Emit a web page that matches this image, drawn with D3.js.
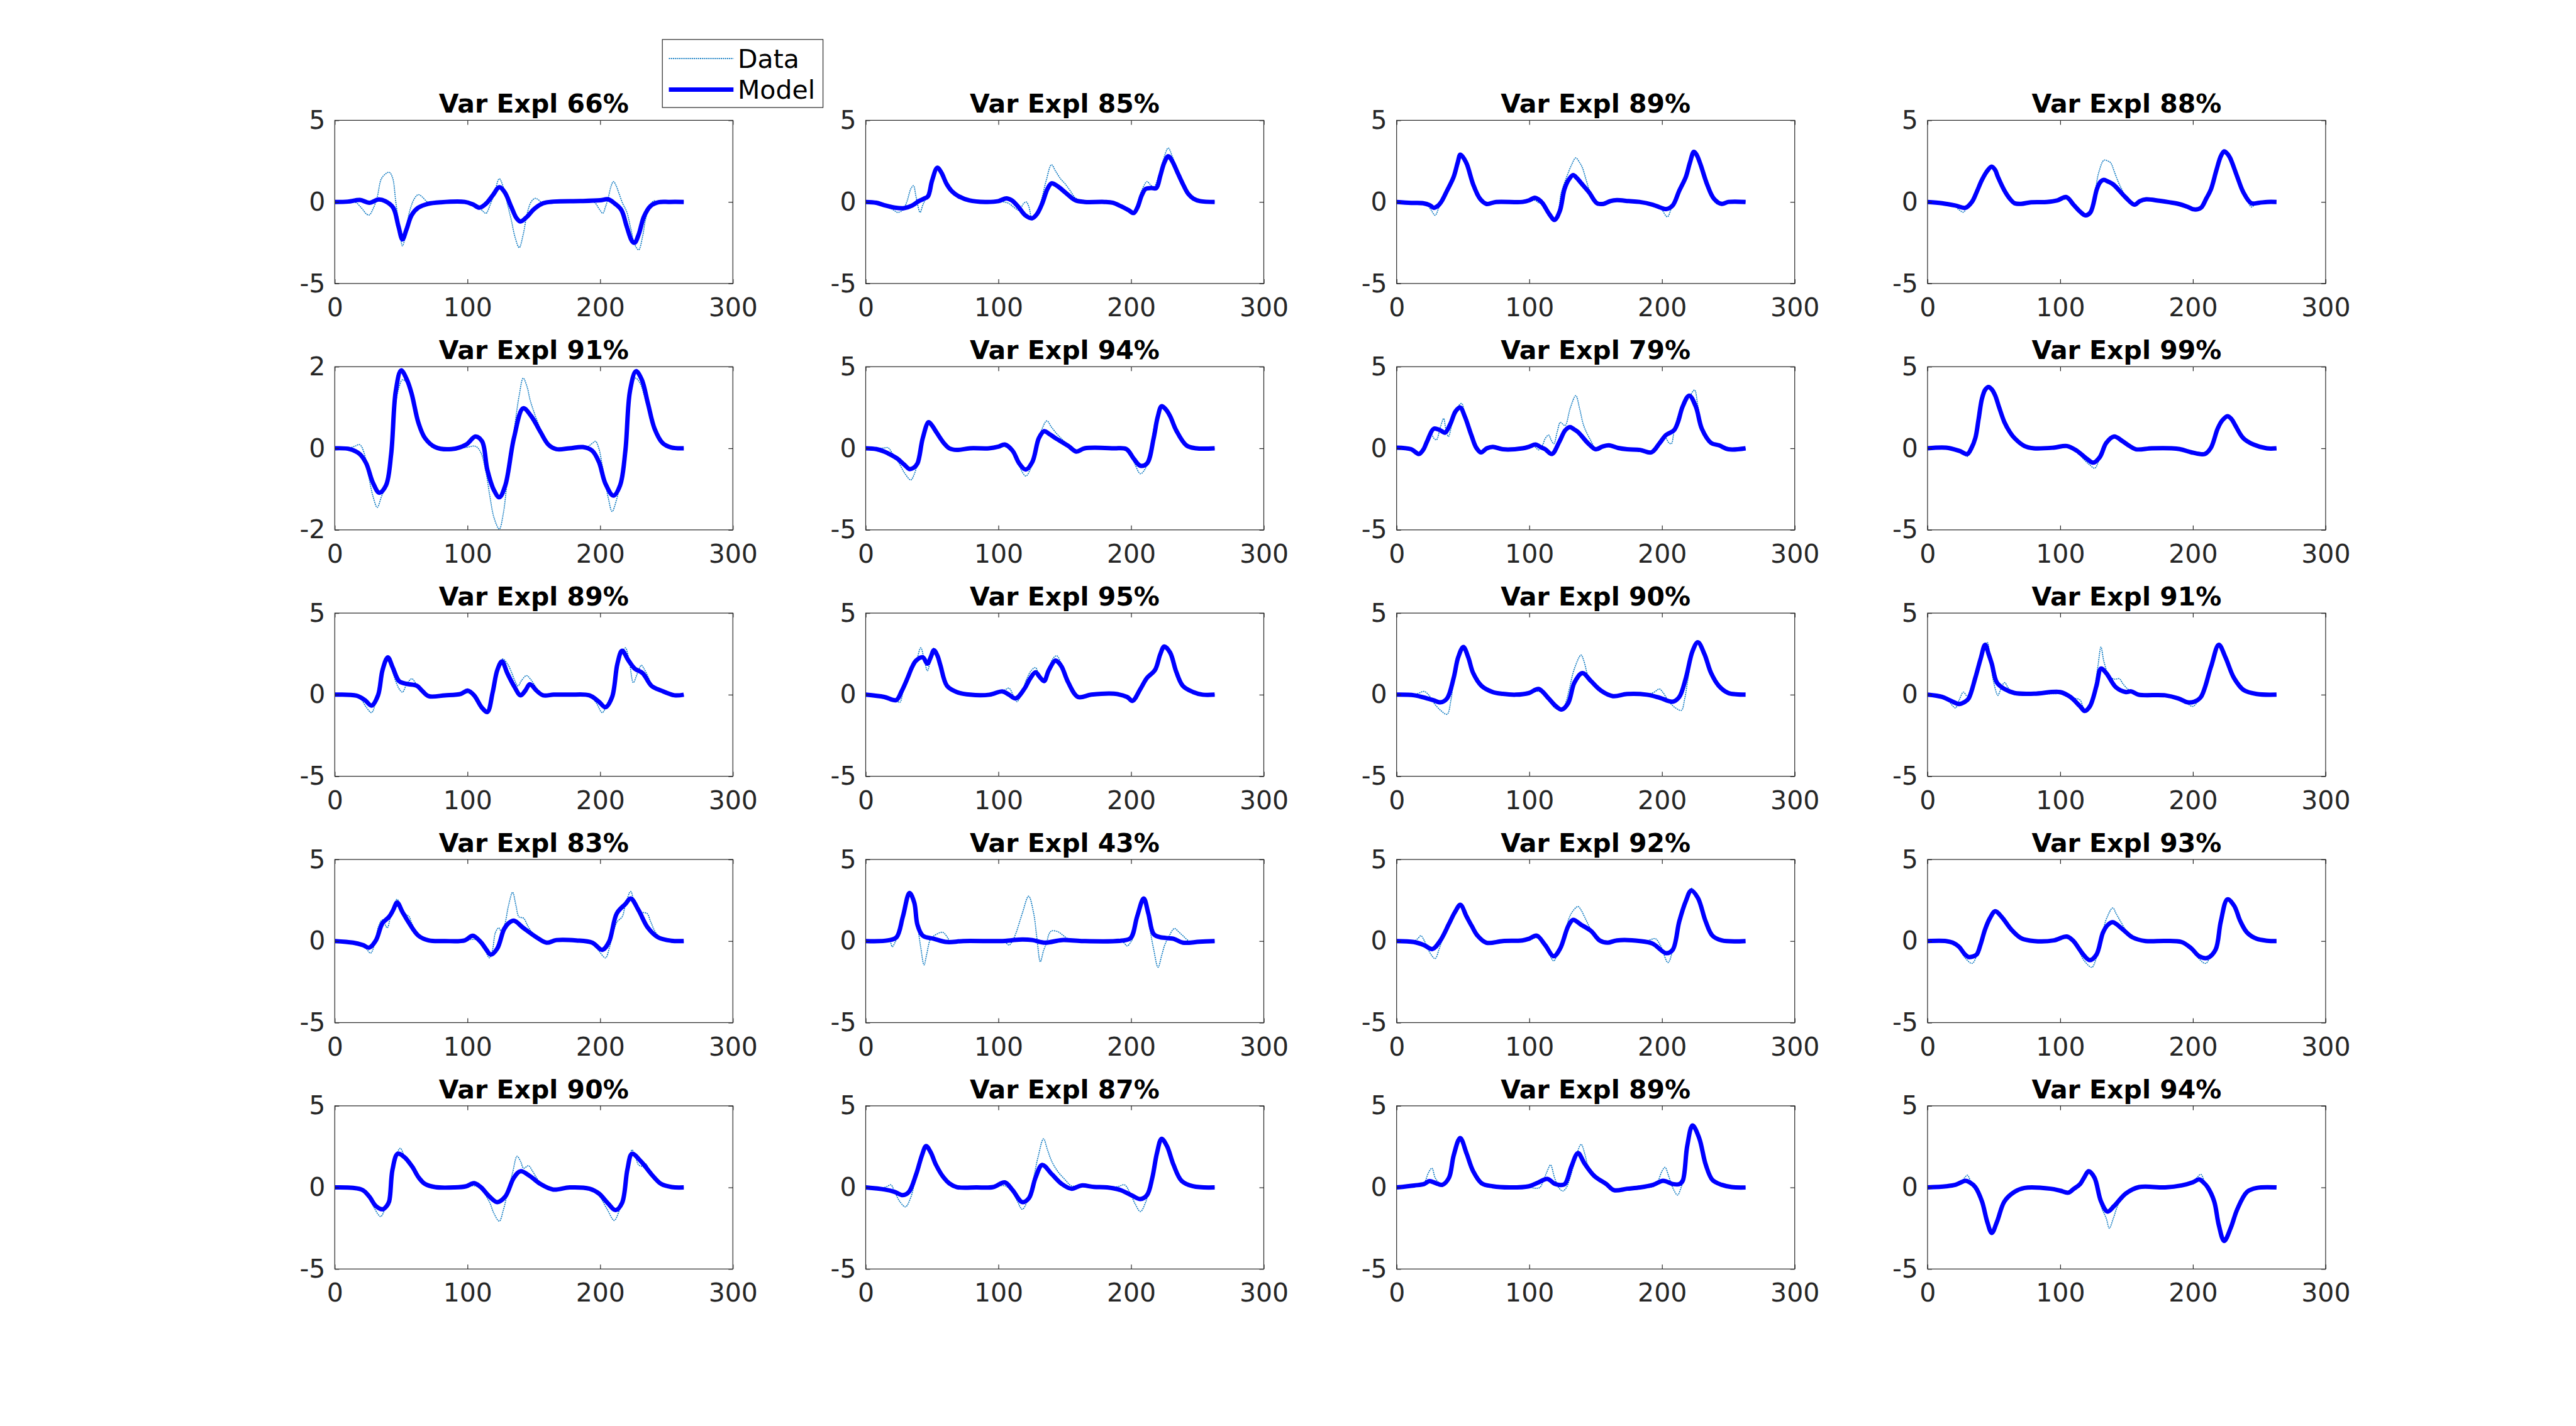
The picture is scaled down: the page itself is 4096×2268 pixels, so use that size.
<!DOCTYPE html>
<html><head><meta charset="utf-8">
<script src="https://cdn.jsdelivr.net/npm/d3@7"></script>
<style>html,body{margin:0;padding:0;background:#fff;overflow:hidden}</style>
</head><body>
<svg id="chart" width="4096" height="2268"></svg>
<script>
// ---------------- DATA ----------------
const titles = ["Var Expl 66%","Var Expl 85%","Var Expl 89%","Var Expl 88%",
  "Var Expl 91%","Var Expl 94%","Var Expl 79%","Var Expl 99%",
  "Var Expl 89%","Var Expl 95%","Var Expl 90%","Var Expl 91%",
  "Var Expl 83%","Var Expl 43%","Var Expl 92%","Var Expl 93%",
  "Var Expl 90%","Var Expl 87%","Var Expl 89%","Var Expl 94%"];
const yLimits = [5,5,5,5, 2,5,5,5, 5,5,5,5, 5,5,5,5, 5,5,5,5];
const xTicks = [0,100,200,300];
const xLimits = [0,300];
const legendLabels = ["Data","Model"];

const m01 = [[0,0],[10,0.02],[19,0.12],[26,-0.05],[33,0.15],[38,0.05],[44,-0.35],[48,-1.5],[51,-2.3],[54,-1.7],[58,-0.8],[63,-0.35],[70,-0.12],[80,-0.02],[98,0],[104,-0.15],[109,-0.35],[114,-0.1],[119,0.4],[124,0.9],[128,0.6],[133,-0.3],[137,-1.0],[140,-1.2],[145,-0.9],[150,-0.45],[157,-0.08],[165,0.02],[185,0.05],[200,0.1],[206,0.16],[211,-0.1],[216,-0.5],[220,-1.5],[224,-2.4],[226,-2.5],[229,-2.0],[233,-0.9],[238,-0.25],[244,-0.02],[252,0],[263,0]];
const d01 = [[0,0],[15,0],[20,-0.36],[24,-0.75],[26,-0.8],[29,-0.4],[32,0.3],[35,1.4],[38,1.7],[41,1.82],[43.5,1.5],[46,0],[49,-1.8],[51,-2.7],[53,-2.2],[56,-0.7],[60,0.2],[63,0.45],[66,0.3],[70,0],[80,0],[100,0],[104,-0.05],[108,-0.24],[112,-0.6],[114,-0.7],[117,-0.2],[120,0.45],[124,1.42],[127,0.9],[130,-0.1],[133,-1.1],[136,-2.2],[139,-2.8],[142,-2.0],[145,-0.7],[148,0],[151,0.22],[154,0.1],[157,-0.13],[162,0],[195,0],[199,-0.4],[202,-0.7],[204,-0.3],[206,0.22],[208,0.9],[210,1.25],[212,1.0],[214,0.56],[217,-0.1],[220,-0.6],[223,-1.6],[226,-2.6],[229,-2.94],[232,-2.1],[234,-1.16],[237,-0.3],[240,0.05],[243,0.05],[246,-0.05],[250,0],[263,0]];

const m02 = [[0,0],[8,-0.05],[14,-0.2],[22,-0.35],[29,-0.38],[35,-0.22],[40,0.05],[44,0.2],[47,0.35],[50,1.3],[54,2.1],[57,1.8],[61,1.1],[65,0.65],[70,0.35],[78,0.1],[90,0],[100,0.05],[106,0.22],[110,0.1],[115,-0.3],[120,-0.8],[125.5,-1.0],[129,-0.75],[133,-0.1],[137,0.8],[140,1.14],[144,1.0],[148,0.75],[153,0.4],[158,0.1],[165,0],[180,0],[186,-0.05],[192,-0.25],[198,-0.5],[202,-0.68],[205,-0.3],[208,0.4],[211,0.8],[215,0.85],[219,0.85],[222,1.6],[225,2.4],[228,2.8],[231,2.5],[235,1.8],[239,1.1],[243,0.5],[247,0.2],[252,0.05],[263,0]];
const d02 = [[0,0],[10,-0.05],[16,-0.25],[21,-0.5],[24,-0.64],[28,-0.5],[31,0],[34,0.8],[36,1.0],[38,0.3],[41,-0.64],[43,-0.2],[46,0.35],[50,1.4],[54,2.2],[57,1.8],[61,1.1],[65,0.65],[70,0.35],[80,0.05],[95,0],[104,0],[108,-0.1],[112,-0.35],[115.6,-0.5],[119,-0.1],[121,0],[123,-0.3],[125.5,-1.1],[128,-0.8],[132,0],[136,1.3],[140,2.28],[143,1.9],[147,1.4],[150,1.14],[154,0.7],[158,0.25],[164,0],[180,0],[192,-0.25],[198,-0.5],[202,-0.6],[205,0],[208,0.7],[212,1.25],[214,1.1],[217,0.9],[220,1.4],[224,2.5],[228,3.3],[231,2.8],[235,1.9],[239,1.0],[244,0.4],[250,0.05],[263,0]];

const m03 = [[0,0],[11,-0.06],[20,-0.08],[25,-0.2],[28,-0.36],[31,-0.25],[34,0.05],[38,0.69],[43,1.54],[46,2.4],[48,2.9],[50,2.75],[53,2.3],[57.7,1.07],[62.7,0.21],[67.6,-0.12],[75,0],[95,0],[100,0.1],[104,0.26],[107,0.15],[110,-0.08],[115,-0.74],[119,-1.1],[123,-0.55],[126.5,0.78],[130,1.4],[133,1.64],[136,1.45],[139,1.16],[145,0.59],[151,-0.08],[156,-0.12],[161,0.05],[166,0.11],[175,0.05],[183,0],[193,-0.17],[199,-0.35],[203,-0.44],[208,-0.22],[213,0.69],[218,1.54],[221,2.4],[224,3.07],[226,2.9],[229,2.3],[234,1.07],[239,0.21],[245,-0.12],[250,0],[263,0]];
const d03 = [[0,0],[15,-0.03],[22,-0.1],[26,-0.5],[29,-0.82],[32,-0.3],[35,0.4],[38,0.78],[41,1.2],[44,1.9],[48,2.85],[52,2.4],[56,1.3],[60,0.4],[64,-0.05],[68,-0.12],[75,0],[100,0.02],[104,0.1],[107,-0.05],[110,-0.15],[113,-0.6],[116,-0.95],[119,-1.1],[122,-0.5],[124,0.54],[128,1.5],[132,2.3],[135,2.7],[138,2.4],[140,2.1],[143,1.3],[145,0.78],[148,0.3],[151,-0.08],[156,-0.12],[166,0.1],[183,0],[193,-0.15],[199,-0.4],[204,-0.91],[207,-0.4],[210,0.3],[214,1.0],[218,1.7],[224,3.0],[229,2.3],[234,1.0],[238,0.2],[242,-0.15],[246,-0.1],[250,0],[263,0]];

const m04 = [[0,0],[11,-0.08],[21,-0.22],[28.6,-0.36],[33.6,0.02],[37,0.6],[41,1.35],[45,1.9],[48.3,2.16],[51,1.95],[53,1.54],[58,0.69],[62,0.2],[65.6,-0.08],[70.5,-0.12],[78,-0.02],[90,0],[98,0.1],[104.6,0.3],[110,-0.17],[115,-0.6],[118.9,-0.82],[122.7,-0.65],[127.6,0.78],[130,1.2],[132.6,1.35],[136,1.25],[140,1.07],[149,0.3],[156,-0.17],[160,0.05],[164.8,0.16],[174.6,0.07],[182,-0.02],[189,-0.12],[196,-0.3],[201,-0.46],[206,-0.36],[210,0.2],[213.6,0.78],[217.6,1.92],[221,2.8],[223.5,3.1],[226,2.95],[228,2.7],[233.4,1.54],[238,0.59],[244,-0.08],[250,-0.05],[256,0],[263,0]];
const d04 = [[0,0],[11,-0.08],[20,-0.25],[24,-0.5],[27,-0.63],[30,-0.3],[33.6,0.05],[37,0.65],[41,1.5],[45,2.05],[48,2.1],[51,1.9],[53,1.5],[58,0.7],[62,0.15],[65.6,-0.12],[70.5,-0.12],[90,0],[98,0.05],[104.6,0.15],[110,-0.2],[115,-0.6],[119,-0.85],[122.7,-0.5],[126,0.5],[129,1.8],[133,2.56],[136,2.5],[138,2.4],[141,1.8],[144.6,1.07],[150.5,0.21],[156,-0.17],[160,0.05],[164.8,0.1],[174.6,0.05],[182,0],[189,-0.1],[196,-0.3],[201,-0.5],[205,-0.35],[209,0.2],[213.6,0.9],[217.6,1.9],[221,2.87],[223.5,3.0],[226,2.8],[228,2.5],[233.4,1.5],[238,0.6],[241,0.1],[244,-0.31],[247,-0.15],[252,0],[263,0]];

const m05 = [[0,0],[11.4,-0.02],[18.8,-0.14],[23.7,-0.37],[28.7,-0.84],[33.6,-1.09],[38.6,-0.91],[42.5,-0.14],[46,1.41],[50,1.91],[54.4,1.68],[58,1.33],[63,0.63],[68,0.25],[75.6,0.03],[88,-0.02],[99,0.09],[106,0.29],[111,0.17],[115,-0.53],[120,-1.03],[124,-1.2],[128.5,-0.91],[135,0.25],[142,0.98],[148,0.79],[155,0.4],[161,0.09],[167,-0.02],[177,0],[187,0.03],[194,-0.06],[199,-0.33],[204,-0.87],[210,-1.16],[215,-0.91],[219,-0.06],[222.5,1.41],[227,1.89],[231.4,1.68],[236,1.1],[241,0.48],[247,0.13],[253.5,0.02],[263,0]];
const d05 = [[0,0],[10,0],[15,0.05],[18.8,0.09],[22,-0.1],[25,-0.6],[29,-1.2],[32,-1.45],[35,-1.2],[37,-1.03],[40,-0.6],[43,0.1],[46,1.1],[48,1.45],[51,1.68],[54.4,1.6],[58,1.3],[63,0.63],[68,0.25],[75.6,0.03],[88,0],[99,0.02],[106,0.05],[110,-0.1],[114,-0.6],[117,-1.2],[120,-1.7],[124,-1.98],[127,-1.6],[130,-0.8],[135,0.4],[139,1.3],[142,1.72],[145,1.5],[147,1.21],[150,0.9],[153,0.63],[158,0.25],[163,0.02],[170,-0.02],[180,0],[190,0.03],[194,0.12],[196.5,0.17],[199,0.0],[202,-0.5],[206,-1.2],[209,-1.55],[212,-1.3],[216,-0.7],[219,0.1],[222.5,1.2],[226.5,1.72],[230,1.6],[234,1.2],[238,0.75],[242,0.4],[247,0.12],[253.5,0.02],[263,0]];

const m06 = [[0,0],[8,-0.05],[14,-0.2],[19,-0.4],[24,-0.64],[29,-1.0],[33,-1.27],[36,-1.2],[39,-0.93],[43,0.62],[47.4,1.6],[50,1.4],[52.4,1.1],[58.8,0.33],[63,0.0],[68.7,-0.1],[78.6,0],[93,0],[100,0.1],[104.8,0.23],[110.7,-0.15],[115.7,-0.93],[120.6,-1.3],[125.6,-0.83],[130.5,0.62],[134.5,1.05],[138,0.9],[143,0.62],[152.8,0.14],[158.7,-0.2],[165,0],[187,0],[196.5,-0.05],[202,-0.64],[207,-1.07],[212,-0.93],[217,0.62],[220,1.9],[223,2.58],[226,2.4],[229.4,1.97],[234,1.1],[241.7,0.18],[249,0],[263,0]];
const d06 = [[0,0],[10,0],[14,0.02],[16.8,0.04],[20,-0.3],[25,-0.9],[30,-1.6],[34,-1.94],[37,-1.5],[39,-0.9],[43,0.62],[47,1.5],[50,1.4],[52.4,1.1],[58.8,0.33],[63,0],[68.7,-0.1],[78.6,0],[100,0],[104.8,0.1],[110.7,-0.3],[115.7,-1.1],[120.6,-1.7],[124,-1.3],[128,-0.2],[132,1.0],[136.5,1.68],[140,1.3],[145,0.8],[152.8,0.2],[158.7,-0.15],[165,0],[190,0],[195,0.04],[199,-0.3],[203,-1.0],[207,-1.56],[211,-1.2],[215,0.2],[219,1.9],[223,2.55],[226,2.4],[229.4,1.97],[234,1.1],[241.7,0.18],[249,0],[263,0]];

const m07 = [[0,0.04],[11,-0.06],[16.8,-0.35],[20,-0.1],[23,0.43],[28,1.2],[33,1.1],[36.5,0.96],[40.5,1.5],[44.4,2.26],[47.9,2.5],[51.3,1.97],[56.3,0.81],[60,0.04],[63.6,-0.25],[68,0],[72.5,0.09],[80,-0.06],[95,0],[100,0.1],[104.6,0.23],[109,0.05],[112,-0.06],[117,-0.35],[122.8,0.43],[127,1.1],[130.7,1.3],[133,1.2],[136.7,1.0],[144,0.33],[150,-0.06],[155,0.1],[160,0.18],[167,0.02],[173.7,-0.06],[183.5,-0.1],[192,-0.25],[198.3,0.33],[203,0.81],[209,1.1],[212,1.6],[215.5,2.55],[220.5,3.23],[225.5,2.55],[230,1.2],[237,0.33],[243,0.18],[250,-0.06],[263,0]];
const d07 = [[0,0.04],[11,-0.06],[16.8,-0.4],[20,-0.1],[23,0.4],[26,0.9],[28,0.62],[30,0.52],[33,1.3],[35.5,1.83],[37,1.2],[39,0.72],[42,1.6],[45,2.4],[49,2.75],[51.3,2.1],[56.3,0.8],[60,0],[62.6,-0.3],[66,-0.1],[72.5,0.05],[80,-0.05],[95,0],[100,0.05],[104,0.1],[107,-0.1],[110,0.2],[112,0.6],[114.6,0.81],[116.5,0.5],[118.5,0.28],[121,1.0],[123.3,1.59],[125,1.5],[127,1.39],[131,2.5],[135,3.23],[138,2.4],[141,1.39],[146,0.52],[151,-0.1],[155,0.1],[160,0.15],[167,0],[183.5,-0.1],[192,-0.25],[196,0.05],[200,0.5],[203,0.6],[205,0.35],[207,0.28],[209,1.0],[212,1.97],[215,2.4],[218,2.8],[221,3.2],[224.5,3.57],[227,2.6],[230,1.2],[233,0.7],[235,0.43],[238,0.3],[243,0.18],[250,-0.06],[263,0]];

const m08 = [[0,0],[14,0.04],[23.7,-0.15],[30,-0.35],[33,0],[36,0.62],[38.5,1.8],[41,3.04],[43.5,3.6],[46,3.76],[48.5,3.6],[51,3.23],[54,2.5],[58,1.59],[62,1.0],[65.6,0.62],[73,0.14],[80,0],[95,0.04],[105,0.14],[112.5,-0.15],[120,-0.64],[124.8,-0.88],[129.8,-0.54],[134.7,0.33],[140.6,0.72],[147,0.43],[152,0.15],[157,-0.06],[169,0],[184,0],[190,-0.05],[199,-0.25],[205,-0.35],[209,-0.35],[213.6,0.04],[218.6,1.2],[222,1.7],[226,1.97],[229,1.8],[232,1.39],[238,0.62],[245.7,0.23],[255.6,0],[263,0]];
const d08 = [[0,0],[14,0.04],[23.7,-0.15],[27,-0.35],[30,-0.5],[33,-0.05],[36,0.62],[38.5,1.8],[41,3.1],[43.5,3.65],[46,3.8],[48.5,3.6],[51,3.2],[54,2.5],[58,1.59],[62,1.0],[65.6,0.62],[73,0.14],[80,0],[95,0.04],[105,0.1],[112.5,-0.2],[118,-0.7],[122,-1.0],[126,-1.22],[129.8,-0.6],[134.7,0.33],[140.6,0.72],[147,0.43],[152,0.15],[157,-0.06],[169,0],[184,0],[190,-0.05],[199,-0.25],[205,-0.35],[209,-0.35],[213.6,0.04],[218.6,1.2],[222,1.7],[226,1.97],[229,1.8],[232,1.39],[238,0.62],[245.7,0.23],[255.6,0],[263,0]];

const m09 = [[0,0],[16.3,-0.06],[22.7,-0.33],[27.7,-0.67],[32.6,-0.04],[36,1.51],[40,2.29],[43.5,1.7],[48.4,0.83],[52,0.7],[55.8,0.64],[62,0.54],[65.7,0.25],[70.7,-0.09],[83,-0.04],[95,0.05],[100.3,0.25],[105,-0.04],[111,-0.81],[115,-1.06],[119,0.15],[122.5,1.51],[126,2.04],[130,1.32],[135,0.54],[140,-0.04],[143.6,0.25],[147,0.64],[152,0.25],[157,-0.04],[165,0],[177,0],[191.8,-0.04],[199,-0.43],[204,-0.77],[209,-0.14],[213,1.9],[216.5,2.69],[221.4,2.09],[226,1.6],[232,1.32],[238.7,0.54],[246,0.25],[256,-0.04],[263,0]];
const d09 = [[0,0],[16.3,-0.06],[20,-0.3],[24,-0.8],[27.7,-1.1],[31,-0.4],[34,0.8],[37,1.7],[39.5,2.1],[41.5,1.95],[44,1.3],[47,0.6],[49,0.3],[51,0.15],[54,0.6],[58,0.98],[61,0.7],[65.7,0.2],[70.7,-0.09],[83,-0.04],[95,0],[100.3,0.1],[105,-0.1],[111,-0.85],[115,-1.06],[119,0.15],[122.5,1.5],[126.5,2.19],[130,1.9],[132.5,1.51],[135.5,0.9],[138,0.54],[141,0.9],[144.5,1.17],[147,1.0],[149.7,0.7],[153,0.3],[157,-0.04],[165,0],[177,0],[191.8,-0.04],[197,-0.5],[201.6,-1.1],[205,-0.6],[209,0.1],[213,1.8],[216,2.5],[219,2.87],[222,2.0],[225,0.74],[228,1.3],[231,1.8],[233,1.6],[236,1.12],[239,0.6],[246,0.25],[256,-0.04],[263,0]];

const m10 = [[0,0],[14,-0.14],[23,-0.33],[27,0.2],[31.6,1.03],[35,1.7],[38,2.09],[43,2.29],[46.5,1.9],[49,2.3],[51.4,2.72],[54,2.4],[56.3,1.8],[61.3,0.54],[68.7,0.16],[78.6,0],[93.4,0],[103,0.2],[108,0.0],[113,-0.23],[119.5,0.35],[124,1.0],[128,1.37],[131,1.1],[134.4,0.83],[138,1.5],[142.8,2.09],[145,2.0],[147.8,1.7],[152.7,0.74],[160,-0.14],[170,0],[187,0.06],[197,-0.14],[201,-0.38],[207,0.35],[212,1.03],[218,1.51],[222,2.48],[225,2.95],[229.4,2.58],[234,1.41],[239,0.54],[246.8,0.16],[254,0],[263,0]];
const d10 = [[0,0],[14,-0.14],[22,-0.3],[25.7,-0.47],[28,0.1],[31.6,0.9],[35,1.5],[38,2.0],[41.5,2.87],[44,2.2],[46.5,1.46],[49,2.2],[51.4,2.87],[54,2.2],[56.3,1.6],[61.3,0.54],[68.7,0.16],[78.6,0],[93.4,0],[100,0.1],[105,0.3],[108,0.4],[111,0.0],[114,-0.43],[118,0.2],[121,0.9],[125,1.5],[128,1.66],[131,1.1],[134.4,0.9],[138,1.6],[141,2.2],[144,2.38],[147.8,1.8],[152.7,0.74],[160,-0.14],[170,0],[187,0.06],[197,-0.2],[201,-0.4],[207,0.4],[212,1.0],[218,1.6],[222,2.5],[225,2.95],[229.4,2.55],[234,1.41],[239,0.54],[246.8,0.16],[254,0],[263,0]];

const m11 = [[0,0],[13.3,-0.04],[23,-0.23],[28,-0.35],[33,-0.47],[38,-0.23],[43,1.03],[46.4,2.29],[50.3,2.92],[54,2.29],[57.7,1.32],[64,0.54],[72.5,0.16],[80,0.05],[89.8,0],[99.7,0.1],[107,0.35],[114.5,-0.23],[120,-0.7],[124.3,-0.91],[129.3,-0.52],[134,0.74],[140,1.32],[146.5,0.83],[154,0.25],[163,-0.09],[173.7,0.04],[188.5,0],[198,-0.18],[208,-0.43],[213,-0.14],[218,1.03],[223,2.67],[227,3.21],[232,2.48],[237,1.32],[242.8,0.54],[250,0.1],[256,0.02],[263,0]];
const d11 = [[0,0],[13.3,0],[17,0.1],[20.7,0.2],[24,0],[28,-0.5],[33,-0.95],[38,-1.2],[41,-0.3],[43,0.9],[46.4,2.2],[50.3,2.92],[54,2.29],[57.7,1.32],[64,0.54],[72.5,0.16],[89.8,0],[99.7,0.05],[107,0.2],[114.5,-0.3],[119,-0.8],[124.3,-0.95],[127,-0.6],[130,0.3],[134,1.6],[139,2.43],[141,2.1],[144,1.2],[146.5,0.83],[154,0.25],[163,-0.09],[173.7,0.04],[188.5,0],[194,0.15],[198,0.35],[201,0.1],[205,-0.4],[210,-0.8],[214.6,-0.96],[217,-0.3],[220,1.2],[223,2.6],[227,3.26],[232,2.48],[237,1.32],[242.8,0.54],[250,0.1],[263,0]];

const m12 = [[0,0],[11,-0.14],[17,-0.35],[23.7,-0.57],[28,-0.45],[31,-0.23],[36,1.03],[40,2.2],[43.4,3.06],[46,2.5],[48.4,1.9],[52.3,0.74],[58,0.35],[65.6,0.1],[80.4,0.06],[100,0.16],[107.6,-0.14],[115,-0.72],[118.4,-1.0],[122.3,-0.72],[127.3,0.54],[130.7,1.6],[134.7,1.32],[142,0.45],[149.5,0.16],[153.4,0.2],[159,0],[179,-0.04],[189,-0.23],[196,-0.47],[201,-0.43],[206,-0.14],[213.6,1.71],[219.5,3.06],[224.5,2.29],[230.9,1.03],[238,0.3],[248,0.04],[263,0]];
const d12 = [[0,0],[11,-0.14],[16,-0.4],[21,-0.81],[24,-0.3],[27,0.16],[30,-0.1],[33,0.5],[36,1.1],[40,2.3],[43,3.0],[45,3.2],[47.5,2.0],[50,0.7],[53,-0.04],[55,0.3],[58,0.74],[61,0.4],[65.6,0.1],[80.4,0.06],[95,0.05],[100,0.05],[105,-0.1],[110,-0.2],[115,-0.33],[117,-0.7],[120,-1.06],[123,-0.6],[126,0.5],[128.5,1.8],[130.7,2.92],[133,2.0],[137,1.12],[141,0.95],[144.5,0.98],[147,0.7],[149.5,0.45],[153.4,0.2],[159,0],[179,-0.04],[189,-0.25],[195,-0.5],[199.7,-0.72],[203,-0.5],[206,-0.14],[213.6,1.71],[219.5,3.0],[224.5,2.29],[230.9,1.03],[238,0.3],[248,0.04],[263,0]];

const m13 = [[0,0],[13.8,-0.1],[21.2,-0.25],[26,-0.4],[31,0.04],[36,1.1],[41,1.49],[44,1.9],[47,2.36],[51,1.78],[56,1.1],[63,0.33],[70.7,0.04],[83,0],[98,0.04],[104,0.33],[110,-0.06],[114,-0.5],[117.6,-0.83],[122.5,-0.45],[127.5,0.72],[131,1.1],[135,1.25],[142,0.81],[152,0.23],[159.6,-0.1],[167,0.06],[182,0.04],[194,-0.1],[201.6,-0.54],[206.6,-0.06],[212.5,1.69],[219,2.27],[223,2.61],[229,1.88],[236,0.81],[243.6,0.23],[253.5,0.02],[263,0]];
const d13 = [[0,0],[13.8,-0.1],[21.2,-0.3],[24,-0.5],[27,-0.74],[30,-0.2],[33,0.9],[36,1.3],[39.5,0.81],[42,1.5],[44.5,2.2],[47,2.56],[50,2.0],[53,1.69],[56,1.5],[58,1.1],[63,0.33],[70.7,0.04],[83,0],[98,0.04],[104,0.1],[110,0.0],[113,-0.5],[116.6,-1.03],[119,-0.5],[121,0.5],[123.5,0.81],[125.5,0.6],[128,1.0],[131,2.2],[134,2.99],[136.5,2.2],[138.8,1.49],[142.3,1.4],[145,1.0],[147,0.72],[152,0.23],[159.6,-0.1],[167,0.06],[182,0.04],[194,-0.1],[199,-0.6],[204,-1.03],[207,-0.4],[210,0.6],[213,1.2],[216.6,1.49],[219,2.2],[223,3.04],[226.5,2.07],[229,1.8],[232,1.75],[235.4,1.69],[238,1.2],[242,0.5],[247,0.15],[253.5,0.02],[263,0]];

const m14 = [[0,0],[16.8,0.04],[23.2,0.23],[28,1.49],[33,2.95],[36.6,2.36],[39,1.0],[43,0.33],[51.4,0.14],[61.3,-0.06],[73.6,0],[103,0],[110,0.05],[118,0.09],[125.5,0.06],[135.4,-0.1],[147.8,0.06],[162.6,0],[192,0.02],[199.6,0.18],[204.5,1.49],[209.5,2.61],[213,1.69],[217,0.43],[222,0.23],[232,0.14],[239,-0.1],[251.6,-0.04],[263,0]];
const d14 = [[0,0],[15,0.02],[18,0.05],[20,-0.35],[22,-0.1],[25,0.5],[28,1.6],[33,2.95],[36.6,2.2],[39,1.0],[41.5,-0.4],[44,-1.46],[46,-0.8],[49,0.14],[53,0.4],[58,0.54],[61,0.3],[63.8,0],[73.6,0],[103,0],[105,-0.05],[108,-0.25],[110.5,0.0],[113,0.43],[118,1.69],[122.8,2.75],[126.6,1.69],[129,0.2],[131.6,-1.27],[134,-0.6],[136.5,-0.06],[138,0.4],[140,0.62],[145,0.57],[148,0.4],[152.3,0.14],[158,0],[192,0],[194.5,-0.1],[197,-0.3],[199.5,-0.1],[202,0.33],[205,1.6],[209.5,2.61],[212,1.7],[214.4,0.62],[217,-0.5],[220.3,-1.61],[223,-0.9],[225.3,-0.25],[228,0.2],[232.7,0.77],[236,0.55],[239,0.33],[244,0],[252,0],[263,0]];

const m15 = [[0,0],[13,-0.06],[20.7,-0.25],[27,-0.49],[33,0.04],[39.5,1.06],[44,1.78],[48,2.22],[52.8,1.49],[56.7,0.91],[61,0.33],[67.6,-0.1],[80,0],[94.7,0.04],[100,0.15],[105.6,0.33],[112,-0.25],[118.4,-0.93],[123.3,-0.45],[129.3,0.91],[133,1.3],[139,1.0],[146.5,0.62],[153,0.04],[159,-0.1],[166,0.04],[183.5,0],[193,-0.16],[203,-0.74],[208,-0.54],[213,1.2],[218,2.46],[222,3.09],[227,2.65],[232.9,1.2],[238,0.33],[245,0.04],[263,0]];
const d15 = [[0,0],[13,0],[16,0.15],[18.3,0.33],[21,0.0],[25,-0.7],[29,-1.08],[32,-0.5],[35,0.2],[39.5,1.0],[44,1.8],[48,2.25],[52.8,1.49],[56.7,0.91],[61,0.33],[67.6,-0.1],[80,0],[94.7,0],[100,0.05],[105.6,0.2],[112,-0.3],[115,-0.8],[118.4,-1.22],[121.5,-0.7],[125,0.1],[128,0.9],[131.6,1.69],[136.7,2.12],[139,1.9],[141.6,1.49],[146.5,0.7],[153,0.04],[159,-0.1],[166,0.04],[183.5,0],[190,0.05],[195,0.14],[199,-0.3],[204.5,-1.32],[208,-0.6],[212,0.6],[216,1.8],[219,2.6],[222,3.24],[227,2.65],[232.9,1.2],[238,0.33],[245,0.04],[263,0]];

const m16 = [[0,0],[14,0],[19,-0.1],[23.7,-0.35],[28,-0.8],[31,-0.98],[34,-0.95],[37,-0.83],[40,-0.2],[43.4,0.72],[47,1.4],[51,1.83],[55.8,1.49],[63,0.72],[70.5,0.18],[80.4,0],[95.2,0.04],[105,0.28],[110,0],[114,-0.45],[117.4,-0.83],[122.3,-1.17],[127.3,-0.83],[132.2,0.52],[136,1.0],[139.6,1.15],[147,0.72],[154.4,0.23],[164.3,0],[179,0.01],[191.4,-0.06],[198.8,-0.45],[204.7,-0.93],[211,-1.03],[217,-0.54],[221,1.2],[226,2.56],[231,2.17],[235.8,1.2],[240.8,0.52],[248,0.14],[256,0.02],[263,0]];
const d16 = [[0,0],[14,0],[19,-0.1],[23.7,-0.4],[28,-1.0],[33.6,-1.37],[37,-0.9],[40,-0.2],[43.4,0.72],[47,1.4],[51,1.83],[55.8,1.49],[63,0.72],[70.5,0.18],[80.4,0],[95.2,0.02],[105,0.15],[110,-0.1],[114,-0.6],[118,-1.2],[123.8,-1.61],[127.3,-1.0],[131,0.2],[135,1.4],[139.6,2.03],[142,1.7],[145.5,1.2],[150,0.6],[154.4,0.23],[164.3,0],[179,0],[191.4,-0.06],[198.8,-0.5],[204.7,-1.1],[209.5,-1.37],[213,-1.0],[217,-0.54],[221,1.2],[226,2.56],[231,2.17],[235.8,1.2],[240.8,0.52],[248,0.14],[256,0.02],[263,0]];

const m17 = [[0,0],[13.8,-0.03],[21.2,-0.17],[26,-0.56],[31,-1.14],[36,-1.34],[39,-1.15],[41,-0.85],[43.5,1.09],[47.4,2.06],[52.4,1.86],[58.3,1.28],[63.3,0.6],[68,0.21],[75.6,0.02],[90,0],[99,0.07],[105,0.26],[110,0.02],[116.6,-0.56],[122.5,-0.9],[128.5,-0.56],[135,0.6],[140,0.99],[147,0.7],[155,0.21],[164.6,-0.13],[177,0],[192,-0.08],[199,-0.37],[205.6,-0.95],[211.6,-1.39],[216.5,-0.95],[220.5,1.09],[224,2.06],[231,1.57],[238.7,0.8],[246,0.21],[254,0.02],[263,0]];
const d17 = [[0,0],[13.8,-0.03],[21.2,-0.1],[26,-0.6],[30,-1.3],[34.6,-1.78],[38,-1.3],[41,-0.85],[43.5,0.8],[46,1.9],[49.4,2.4],[52.4,1.9],[55.8,1.38],[58.3,1.28],[63.3,0.6],[68,0.21],[75.6,0.02],[90,0],[99,0.02],[105,0.1],[110,-0.1],[116.6,-0.9],[120,-1.6],[124,-2.07],[127,-1.4],[130,-0.4],[134,0.9],[137.4,1.91],[140,1.6],[142.3,1.18],[146,1.33],[149,1.0],[152,0.6],[155,0.25],[164.6,-0.13],[177,0],[192,-0.08],[199,-0.5],[205,-1.3],[210.6,-2.02],[214,-1.5],[217,-0.6],[220.5,1.0],[224,2.3],[226.5,1.9],[229,1.38],[231.5,1.3],[234,1.47],[238.7,0.8],[246,0.21],[254,0.02],[263,0]];

const m18 = [[0,0],[14.3,-0.13],[21.7,-0.27],[28,-0.47],[32.6,-0.27],[38,0.8],[42.5,2.0],[45.5,2.54],[49,2.15],[53,1.38],[58.8,0.6],[63,0.25],[68.7,0.02],[83.5,0],[96,0.02],[104.8,0.31],[110.7,-0.17],[118,-0.9],[123,-0.66],[128,0.6],[133,1.38],[140.4,0.8],[147.8,0.21],[155,-0.08],[162.6,0.12],[172,0.03],[182,0],[192.3,-0.17],[201,-0.51],[207,-0.71],[212,-0.47],[216,0.6],[219.5,2.11],[223,2.98],[227,2.54],[232,1.38],[238,0.41],[246.7,0.07],[263,0]];
const d18 = [[0,0],[14.3,0.0],[17,0.1],[19,0.16],[22,-0.3],[26,-0.9],[30,-1.19],[34,-0.6],[38,0.7],[42.5,2.0],[45.5,2.5],[49,2.15],[53,1.38],[58.8,0.6],[63,0.25],[68.7,0.02],[83.5,0],[96,0],[104.8,0.1],[110.7,-0.3],[114,-0.8],[118,-1.34],[122,-0.8],[126,0.4],[130,1.9],[134,2.98],[137,2.3],[140.4,1.57],[145,0.95],[150,0.5],[155,0.1],[162.6,0.12],[172,0.03],[182,0],[190,0.05],[195,0.16],[199,-0.3],[203,-1.0],[207,-1.48],[211,-0.9],[215,0.4],[219.5,2.11],[223,2.98],[227,2.54],[232,1.38],[238,0.41],[246.7,0.07],[263,0]];

const m19 = [[0,0],[13.3,0.12],[20.7,0.21],[24.7,0.39],[29.6,0.26],[34.5,0.16],[39.5,0.6],[43,1.96],[47.9,3.03],[52.8,2.06],[57.7,0.99],[64,0.26],[72.5,0.07],[85,0],[99.7,0.07],[107,0.31],[113.5,0.52],[119.4,0.21],[123,0.15],[126.8,0.21],[131.7,1.28],[136.7,2.1],[141.6,1.47],[149,0.7],[158,0.21],[163.8,-0.17],[173.7,-0.08],[183.5,0],[193.4,0.16],[200.8,0.41],[208,0.21],[213,0.2],[215.6,0.41],[219,2.54],[223,3.8],[228,3.03],[233,1.38],[238,0.46],[245,0.16],[252.6,0.02],[263,0]];
const d19 = [[0,0],[13.3,0.05],[18,0.1],[21,0.3],[24,0.9],[26.6,1.18],[29,0.6],[31.6,0.31],[34.5,0.16],[39.5,0.6],[43,1.96],[47.9,3.0],[52.8,2.06],[57.7,0.99],[64,0.2],[72.5,0],[85,0],[99.7,0],[104.6,-0.05],[108,0.0],[111,0.5],[113.5,1.0],[116,1.38],[119,0.6],[122,0],[125.3,-0.22],[128,0.0],[130,0.41],[134,1.5],[139,2.64],[142,2.0],[144,1.38],[149,0.7],[158,0.21],[163.8,-0.17],[173.7,-0.08],[183.5,0],[193.4,0.05],[197,0.4],[200,1.0],[202.3,1.23],[205,0.7],[208,0.0],[211.7,-0.47],[214,-0.1],[216,0.5],[219,2.54],[223,3.8],[228,3.03],[233,1.38],[238,0.46],[245,0.16],[252.6,0.02],[263,0]];

const m20 = [[0,0],[14,0.07],[21,0.16],[25,0.3],[28.6,0.41],[32,0.3],[36,0.02],[41,-0.85],[45,-2.11],[48.4,-2.79],[52.3,-2.11],[58,-0.85],[65.6,-0.27],[73,-0.03],[92.7,-0.08],[100,-0.2],[106,-0.32],[110,-0.1],[115,0.21],[118,0.6],[121.4,0.99],[125.8,0.6],[130.7,-0.85],[135.7,-1.48],[140.6,-1.14],[149.5,-0.37],[159.4,0.02],[179,0],[191.4,0.12],[199.8,0.31],[204.7,0.49],[208,0.3],[211,0.02],[216,-0.85],[219.5,-2.31],[223.5,-3.28],[228.4,-2.5],[233.4,-1.34],[240.8,-0.27],[248,-0.03],[263,0]];
const d20 = [[0,0],[14,0.05],[21,0.1],[25,0.3],[28,0.6],[30,0.75],[32.5,0.4],[36,0.02],[41,-0.85],[45,-2.11],[48.4,-2.79],[52.3,-2.11],[58,-0.85],[65.6,-0.27],[73,-0.03],[92.7,-0.05],[100,-0.15],[106,-0.25],[110,-0.05],[115,0.2],[118,0.5],[121.4,0.9],[125.8,0.5],[128.5,-0.3],[131,-1.2],[134.7,-1.9],[137,-2.5],[140,-1.9],[144,-1.0],[149.5,-0.4],[159.4,0.02],[179,0],[191.4,0.1],[199.8,0.3],[203,0.6],[206,0.8],[208.5,0.4],[211,0.02],[216,-0.85],[219.5,-2.31],[223.5,-3.28],[228.4,-2.5],[233.4,-1.34],[240.8,-0.27],[248,-0.03],[263,0]];

const modelSeries = [m01,m02,m03,m04,m05,m06,m07,m08,m09,m10,m11,m12,m13,m14,m15,m16,m17,m18,m19,m20];
const dataSeries  = [d01,d02,d03,d04,d05,d06,d07,d08,d09,d10,d11,d12,d13,d14,d15,d16,d17,d18,d19,d20];

// ---------------- LAYOUT ----------------
const FONT = "'DejaVu Sans', 'Liberation Sans', sans-serif";
const FS = 41;
const AX = "#262626";
const DATA_COLOR = "#0072BD";
const left0 = 532.3, colPitch = 844.2, axW = 633;
const top0 = 191.4, rowPitch = 391.85, axH = 259.5;
const tickLen = 7;

const svg = d3.select("#chart");
svg.append("rect").attr("width",4096).attr("height",2268).attr("fill","#fff");
const defs = svg.append("defs");

titles.forEach((title, i) => {
  const r = Math.floor(i / 4), c = i % 4;
  const ox = left0 + c * colPitch, oy = top0 + r * rowPitch;
  const lim = yLimits[i];
  const x = d3.scaleLinear().domain(xLimits).range([0, axW]);
  const y = d3.scaleLinear().domain([-lim, lim]).range([axH, 0]);
  const g = svg.append("g").attr("transform", `translate(${ox},${oy})`);

  defs.append("clipPath").attr("id", "clip" + i)
    .append("rect").attr("x", 0).attr("y", 0).attr("width", axW).attr("height", axH);

  const line = d3.line().x(d => x(d[0])).y(d => y(d[1])).curve(d3.curveCatmullRom.alpha(0.5));
  const plot = g.append("g").attr("clip-path", `url(#clip${i})`);
  plot.append("path").datum(dataSeries[i]).attr("d", line)
    .attr("fill", "none").attr("stroke", DATA_COLOR).attr("stroke-width", 1.6)
    .attr("stroke-dasharray", "2,1.3");
  plot.append("path").datum(modelSeries[i]).attr("d", line)
    .attr("fill", "none").attr("stroke", "#0000FF").attr("stroke-width", 7)
    .attr("stroke-linejoin", "round");

  const yTicks = [-lim, 0, lim];
  const styleAxis = sel => {
    sel.select(".domain").remove();
    sel.selectAll("line").attr("stroke", AX).attr("stroke-width", 1.2);
    sel.selectAll("text").attr("fill", AX).style("font-family", FONT).style("font-size", FS + "px");
    sel.attr("font-family", null).attr("font-size", null);
  };
  g.append("g").attr("transform", `translate(0,${axH})`)
    .call(d3.axisBottom(x).tickValues(xTicks).tickSize(-tickLen).tickPadding(23).tickFormat(d3.format("d")))
    .call(styleAxis);
  g.append("g")
    .call(d3.axisTop(x).tickValues(xTicks).tickSize(-tickLen).tickFormat(""))
    .call(styleAxis);
  g.append("g")
    .call(d3.axisLeft(y).tickValues(yTicks).tickSize(-tickLen).tickPadding(15).tickFormat(d => d < 0 ? "-" + Math.abs(d) : String(d)))
    .call(styleAxis);
  g.append("g").attr("transform", `translate(${axW},0)`)
    .call(d3.axisRight(y).tickValues(yTicks).tickSize(-tickLen).tickFormat(""))
    .call(styleAxis);

  g.append("rect").attr("x", 0).attr("y", 0).attr("width", axW).attr("height", axH)
    .attr("fill", "none").attr("stroke", AX).attr("stroke-width", 1.2);

  g.append("text").attr("x", axW / 2).attr("y", -12).attr("text-anchor", "middle")
    .style("font-family", FONT).style("font-size", FS + "px").style("font-weight", "bold")
    .attr("fill", "#000").text(title);
});

// ---------------- LEGEND ----------------
const lg = svg.append("g");
lg.append("rect").attr("x", 1053.2).attr("y", 62.8).attr("width", 255.4).attr("height", 108.2)
  .attr("fill", "#fff").attr("stroke", AX).attr("stroke-width", 1.2);
lg.append("line").attr("x1", 1063.5).attr("x2", 1166.3).attr("y1", 93.1).attr("y2", 93.1)
  .attr("stroke", DATA_COLOR).attr("stroke-width", 1.6).attr("stroke-dasharray", "2,1.3");
lg.append("line").attr("x1", 1063.5).attr("x2", 1166.3).attr("y1", 142.5).attr("y2", 142.5)
  .attr("stroke", "#0000FF").attr("stroke-width", 7);
lg.append("text").attr("x", 1173).attr("y", 107.5).style("font-family", FONT).style("font-size", FS + "px")
  .attr("fill", "#000").text(legendLabels[0]);
lg.append("text").attr("x", 1173).attr("y", 156.5).style("font-family", FONT).style("font-size", FS + "px")
  .attr("fill", "#000").text(legendLabels[1]);
</script>
</body></html>
